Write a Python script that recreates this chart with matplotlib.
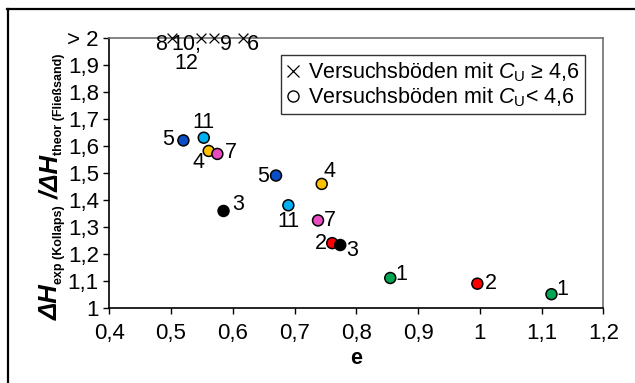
import matplotlib
matplotlib.use("Agg")
import matplotlib.pyplot as plt
from matplotlib.lines import Line2D

plt.rcParams['font.family'] = ['Liberation Sans', 'DejaVu Sans']
plt.rcParams['mathtext.fontset'] = 'custom'
plt.rcParams['mathtext.rm'] = 'Liberation Sans'
plt.rcParams['mathtext.it'] = 'Liberation Sans:italic'
plt.rcParams['mathtext.bf'] = 'Liberation Sans:bold'

# soils with C_U < 4.6 (circles)
e_circ = [0.520, 0.553, 0.561, 0.575, 0.670, 0.585, 0.690, 0.744, 0.738, 0.761, 0.774, 0.855, 0.996, 1.116]
h_circ = [1.620, 1.630, 1.581, 1.570, 1.490, 1.359, 1.380, 1.459, 1.324, 1.240, 1.233, 1.111, 1.090, 1.051]
lab_circ = ['5', '11', '4', '7', '5', '3', '11', '4', '7', '2', '3', '1', '2', '1']
col_circ = ['#0a4fc8', '#00b0f0', '#ffc000', '#e84cc0', '#0a4fc8', '#000000', '#00b0f0',
            '#ffc000', '#e84cc0', '#ff0000', '#000000', '#00a651', '#ff0000', '#00a651']

# soils with C_U >= 4.6 (crosses, ratio > 2)
e_cross = [0.501, 0.548, 0.570, 0.616]
h_cross = [2.0, 2.0, 2.0, 2.0]
lab_cross = ['8', '10,', '12', '9', '6']
lab_cross_idx = [0, 0, 0, 2, 3]

xticks = [0.4, 0.5, 0.6, 0.7, 0.8, 0.9, 1.0, 1.1, 1.2]
xticklabels = ['0,4', '0,5', '0,6', '0,7', '0,8', '0,9', '1', '1,1', '1,2']
yticks = [1.0, 1.1, 1.2, 1.3, 1.4, 1.5, 1.6, 1.7, 1.8, 1.9, 2.0]
yticklabels = ['1', '1,1', '1,2', '1,3', '1,4', '1,5', '1,6', '1,7', '1,8', '1,9', '> 2']

# y label pieces: text, size, style, subscript?
ylab_parts = [('ΔH', 18.5, 'italic', False), ('exp (Kollaps)', 9, 'normal', True),
              (' /ΔH', 18.5, 'italic', False), ('theor (Fließsand)', 9, 'normal', True)]

# label offsets in points
off_circ = [(-11, 1), (0, 11), (-7, -8.6), (9.4, 1), (-9.4, -0.7), (10.8, 4.3), (0, -11.8),
            (5.3, 8.9), (8.3, 0), (-8.4, 0), (8.9, -4.3), (7.7, 2.7), (9.9, 0), (7.5, 3.1)]
off_cross = [(-7.9, -4.7), (10.8, -4.7), (10.8, -18.4), (8.4, -4.7), (7.2, -4.7)]

W, H = 635, 383
fig = plt.figure(figsize=(W / 100, H / 100), dpi=100)
ax = fig.add_axes([0.1721, 0.1958, 0.7780, 0.7058])

ax.scatter(e_circ, h_circ, s=62, c=col_circ, edgecolors='black', linewidths=1.1, zorder=3)
ax.scatter(e_cross, h_cross, s=50, marker='x', c='black', linewidths=0.9, zorder=3, clip_on=False)

for i, t in enumerate(lab_circ):
    ax.annotate(t, (e_circ[i], h_circ[i]), xytext=off_circ[i], textcoords='offset points',
                ha='center', va='center', fontsize=15.5)
for t, i, off in zip(lab_cross, lab_cross_idx, off_cross):
    ax.annotate(t, (e_cross[i], h_cross[i]), xytext=off, textcoords='offset points',
                ha='center', va='center', fontsize=15.5)

ax.set_xlim(0.4, 1.2)
ax.set_ylim(1.0, 2.0)
ax.set_xticks(xticks)
ax.set_xticklabels(xticklabels)
ax.set_yticks(yticks)
ax.set_yticklabels(yticklabels)
ax.tick_params(direction='out', length=4.5, width=1, labelsize=16)
ax.tick_params(axis='x', pad=6)
ax.tick_params(axis='y', pad=3)
ax.tick_params(top=False, right=False)

for s in ['left', 'bottom']:
    ax.spines[s].set_color('black')
    ax.spines[s].set_linewidth(1.2)
for s in ['top', 'right']:
    ax.spines[s].set_color('#707070')
    ax.spines[s].set_linewidth(1.2)

ax.set_xlabel('e', fontsize=15.5, fontweight='bold', labelpad=3)

# y label built piece by piece so subscripts can be small
renderer = fig.canvas.get_renderer()
ypos = 63.0
for txt, size, style, sub in ylab_parts:
    xb = 62.0 if sub else 58.0
    t = fig.text(xb / W, ypos / H, txt, rotation=90, rotation_mode='anchor',
                 ha='left', va='baseline', fontsize=size, fontweight='bold', fontstyle=style)
    ypos += t.get_window_extent(renderer).height

handles = [
    Line2D([], [], ls='none', marker='x', color='black', markersize=8, mew=0.9),
    Line2D([], [], ls='none', marker='o', markerfacecolor='white', markeredgecolor='black',
           markersize=8, mew=1),
]
labels = [r'Versuchsböden mit $C_{\mathrm{U}}$ ≥ 4,6', r'Versuchsböden mit $C_{\mathrm{U}}$< 4,6']
leg = ax.legend(handles, labels, loc='upper right', bbox_to_anchor=(0.963, 0.936),
                borderaxespad=0, fontsize=15.5, frameon=True, fancybox=False,
                handlelength=0.6, handletextpad=0.4, borderpad=0.25, labelspacing=0.05)
leg.get_frame().set_edgecolor('black')
leg.get_frame().set_linewidth(1.0)

# outer figure frame (left and top edges)
fig.add_artist(Line2D([0.012, 0.012], [0.0, 0.976], color='black', lw=1.6, transform=fig.transFigure))
fig.add_artist(Line2D([0.011, 1.0], [0.976, 0.976], color='black', lw=1.6, transform=fig.transFigure))

fig.savefig('out.png', dpi=100)
